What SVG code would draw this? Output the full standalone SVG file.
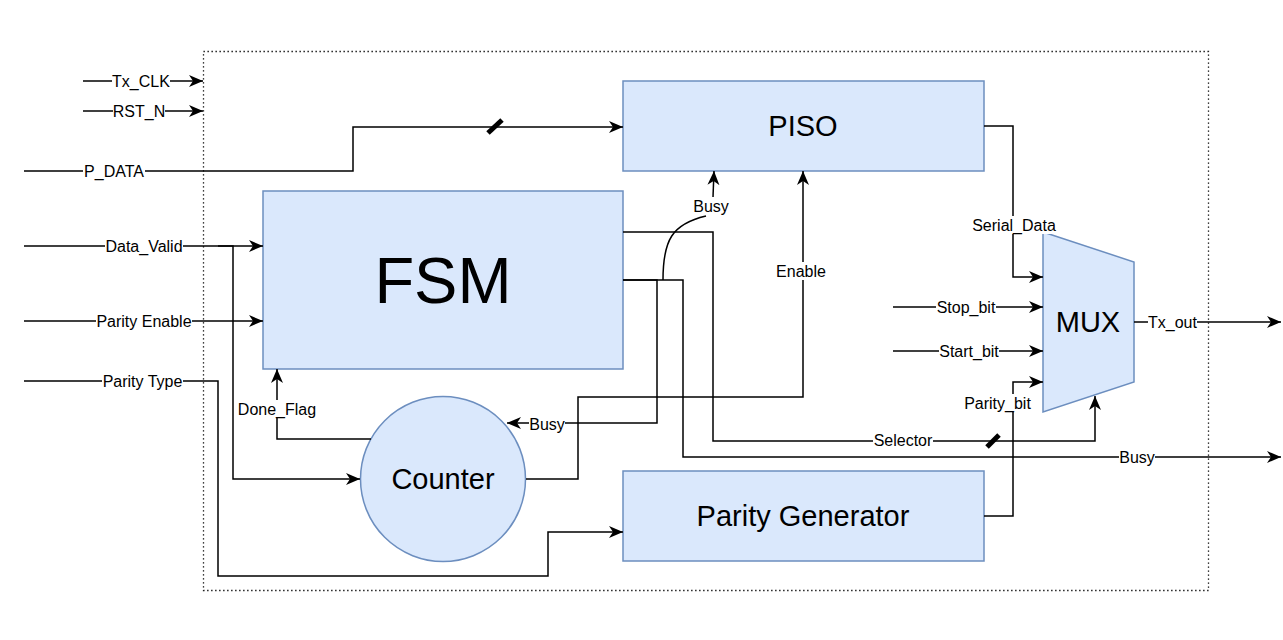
<svg xmlns="http://www.w3.org/2000/svg" width="1283" height="640" viewBox="0 0 1283 640">
<style>
.wire{fill:none;stroke:#000;stroke-width:1.5}
.arr{marker-end:url(#arrow)}
.node{fill:#dae8fc;stroke:#6c8ebf;stroke-width:1.5}
.bound{fill:none;stroke:#000;stroke-width:1.3;stroke-dasharray:1.3 2.7}
.slash{stroke:#000;stroke-width:5;stroke-linecap:butt}
.bg{fill:#fff}
.lbl{font-family:"Liberation Sans",Arial,sans-serif;font-size:16px;text-anchor:middle;dominant-baseline:central;fill:#000}
.big{font-family:"Liberation Sans",Arial,sans-serif;font-size:29px;text-anchor:middle;dominant-baseline:central;fill:#000}
</style>
<defs>
<marker id="arrow" markerUnits="userSpaceOnUse" markerWidth="15" markerHeight="13" refX="14" refY="6" orient="auto">
<path d="M0,0 L14,6 L0,12 L4,6 Z" fill="#000"/>
</marker>
</defs>
<rect width="1283" height="640" fill="#fff"/>
<g id="boundary"><rect class="bound" x="203.5" y="51.5" width="1005" height="539"/></g>
<g id="piso"><rect class="node" x="623" y="81" width="361" height="90"/><text class="big" x="803" y="126">PISO</text></g>
<g id="fsm"><rect class="node" x="263" y="191" width="360" height="178"/><text class="big" x="443" y="280" style="font-size:65px">FSM</text></g>
<g id="counter"><circle class="node" cx="443" cy="479" r="82.5"/><text class="big" x="443" y="479">Counter</text></g>
<g id="parity-generator"><rect class="node" x="623" y="471" width="361" height="90"/><text class="big" x="803" y="516">Parity Generator</text></g>
<g id="mux"><path class="node" d="M1043,232 L1134,262 L1134,382 L1043,412 Z"/><text class="big" x="1088" y="322">MUX</text></g>
<g id="connectors">
<path class="wire arr" d="M83,81 H203"/>
<path class="wire arr" d="M83,111 H203"/>
<path class="wire arr" d="M24,171 H353 V127 H623"/>
<line class="slash" x1="488" y1="133" x2="502" y2="120"/>
<path class="wire arr" d="M24,246 H263"/>
<path class="wire arr" d="M218,246 H233 V479 H360"/>
<path class="wire arr" d="M24,321 H263"/>
<path class="wire arr" d="M24,381 H218 V576 H548 V532 H623"/>
<path class="wire arr" d="M371,439 H277 V369"/>
<path class="wire arr" d="M526,479 H578 V397 H803 V171"/>
<path class="wire arr" d="M623,280 H657 V423 H507"/>
<path class="wire arr" d="M623,280 H683 V457 H1281"/>
<path class="wire" d="M663,280 C663,240 672,224 706,216"/>
<path class="wire arr" d="M713,197 L714,171"/>
<path class="wire arr" d="M623,232 H713 V441 H1095 V396"/>
<line class="slash" x1="987" y1="447" x2="999" y2="435"/>
<path class="wire arr" d="M984,126 H1013 V277 H1043"/>
<path class="wire arr" d="M893,307 H1043"/>
<path class="wire arr" d="M893,351 H1043"/>
<path class="wire arr" d="M984,516 H1013 V382 H1043"/>
<path class="wire arr" d="M1134,322 H1281"/>
<rect class="bg" x="112" y="72" width="58" height="18"/><text class="lbl" x="141" y="81">Tx_CLK</text>
<rect class="bg" x="113" y="102" width="52" height="18"/><text class="lbl" x="139" y="111">RST_N</text>
<rect class="bg" x="83" y="162" width="62" height="18"/><text class="lbl" x="114" y="171">P_DATA</text>
<rect class="bg" x="105" y="237" width="78" height="18"/><text class="lbl" x="144" y="246">Data_Valid</text>
<rect class="bg" x="96" y="312" width="96" height="18"/><text class="lbl" x="144" y="321">Parity Enable</text>
<rect class="bg" x="102" y="372" width="81" height="18"/><text class="lbl" x="142.5" y="381">Parity Type</text>
<rect class="bg" x="238" y="400" width="78" height="18"/><text class="lbl" x="277" y="409">Done_Flag</text>
<rect class="bg" x="529" y="415" width="36" height="18"/><text class="lbl" x="547" y="424">Busy</text>
<rect class="bg" x="693" y="197" width="36" height="18"/><text class="lbl" x="711" y="206">Busy</text>
<rect class="bg" x="776" y="262" width="50" height="18"/><text class="lbl" x="801" y="271">Enable</text>
<rect class="bg" x="972" y="216" width="84" height="18"/><text class="lbl" x="1014" y="225">Serial_Data</text>
<rect class="bg" x="936" y="298" width="60" height="18"/><text class="lbl" x="966" y="307">Stop_bit</text>
<rect class="bg" x="939" y="342" width="60" height="18"/><text class="lbl" x="969" y="351">Start_bit</text>
<rect class="bg" x="964" y="394" width="67" height="18"/><text class="lbl" x="997.5" y="403">Parity_bit</text>
<rect class="bg" x="1148" y="313" width="49" height="18"/><text class="lbl" x="1172.5" y="322">Tx_out</text>
<rect class="bg" x="873" y="431" width="60" height="18"/><text class="lbl" x="903" y="440">Selector</text>
<rect class="bg" x="1119" y="448" width="36" height="18"/><text class="lbl" x="1137" y="457">Busy</text>
</g>
</svg>
